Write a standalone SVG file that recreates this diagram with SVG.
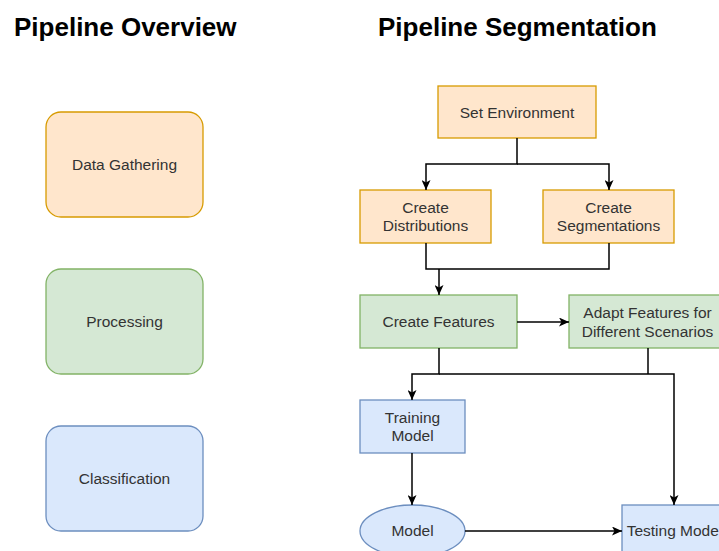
<svg xmlns="http://www.w3.org/2000/svg" width="719" height="551" viewBox="0 0 719 551">
  <style>
    .title { font-family: "Liberation Sans", Arial, sans-serif; font-size: 26px; font-weight: bold; fill: #000; }
    .lbl { font-family: "Liberation Sans", Arial, sans-serif; font-size: 15.5px; fill: #333; text-anchor: middle; }
    .orange { fill: #ffe6cc; stroke: #d79b00; stroke-width: 1.3; }
    .green { fill: #d5e8d4; stroke: #82b366; stroke-width: 1.3; }
    .blue { fill: #dae8fc; stroke: #6c8ebf; stroke-width: 1.3; }
    .edge { fill: none; stroke: #000; stroke-width: 1.5; }
  </style>
  <defs>
    <marker id="arrow" viewBox="0 0 10 10" refX="10" refY="5" markerWidth="10" markerHeight="9" markerUnits="userSpaceOnUse" orient="auto" preserveAspectRatio="none">
      <path d="M0,0 L10,5 L0,10 L2.5,5 Z" fill="#000"/>
    </marker>
  </defs>
  <rect width="719" height="551" fill="#fff"/>

  <text class="title" x="14" y="36">Pipeline Overview</text>
  <text class="title" x="378" y="36">Pipeline Segmentation</text>

  <!-- overview stages -->
  <g id="data-gathering">
    <rect class="orange" x="46" y="112" width="157" height="105" rx="15"/>
    <text class="lbl" x="124.5" y="170">Data Gathering</text>
  </g>
  <g id="processing">
    <rect class="green" x="46" y="269" width="157" height="105" rx="15"/>
    <text class="lbl" x="124.5" y="327">Processing</text>
  </g>
  <g id="classification">
    <rect class="blue" x="46" y="426" width="157" height="105" rx="15"/>
    <text class="lbl" x="124.5" y="484">Classification</text>
  </g>

  <!-- segmentation steps -->
  <g id="set-environment">
    <rect class="orange" x="438" y="86" width="158" height="52"/>
    <text class="lbl" x="517" y="117.5">Set Environment</text>
  </g>
  <g id="create-distributions">
    <rect class="orange" x="360" y="190" width="131" height="53"/>
    <text class="lbl" x="425.5" y="213">Create</text>
    <text class="lbl" x="425.5" y="231">Distributions</text>
  </g>
  <g id="create-segmentations">
    <rect class="orange" x="543" y="190" width="131" height="53"/>
    <text class="lbl" x="608.5" y="213">Create</text>
    <text class="lbl" x="608.5" y="231">Segmentations</text>
  </g>
  <g id="create-features">
    <rect class="green" x="360" y="295" width="157" height="53"/>
    <text class="lbl" x="438.5" y="327">Create Features</text>
  </g>
  <g id="adapt-features">
    <rect class="green" x="569" y="295" width="157" height="53"/>
    <text class="lbl" x="647.5" y="318">Adapt Features for</text>
    <text class="lbl" x="647.5" y="337">Different Scenarios</text>
  </g>
  <g id="training-model">
    <rect class="blue" x="360" y="400" width="105" height="53"/>
    <text class="lbl" x="412.5" y="423">Training</text>
    <text class="lbl" x="412.5" y="441">Model</text>
  </g>
  <g id="model">
    <ellipse class="blue" cx="412.5" cy="531" rx="52.5" ry="26"/>
    <text class="lbl" x="412.5" y="536">Model</text>
  </g>
  <g id="testing-model">
    <rect class="blue" x="622" y="505" width="105" height="53"/>
    <text class="lbl" x="674.5" y="536">Testing Model</text>
  </g>

  <g id="connectors">
    <path class="edge" d="M517,138 V164 H426 V190" marker-end="url(#arrow)"/>
    <path class="edge" d="M517,164 H609 V190" marker-end="url(#arrow)"/>
    <path class="edge" d="M426,243 V269 H609 V243"/>
    <path class="edge" d="M439,269 V295" marker-end="url(#arrow)"/>
    <path class="edge" d="M517,322 H569" marker-end="url(#arrow)"/>
    <path class="edge" d="M439,348 V374 H412 V400" marker-end="url(#arrow)"/>
    <path class="edge" d="M439,374 H674 V505" marker-end="url(#arrow)"/>
    <path class="edge" d="M648,348 V374"/>
    <path class="edge" d="M412,453 V505" marker-end="url(#arrow)"/>
    <path class="edge" d="M465,531 H622" marker-end="url(#arrow)"/>
  </g>
</svg>
